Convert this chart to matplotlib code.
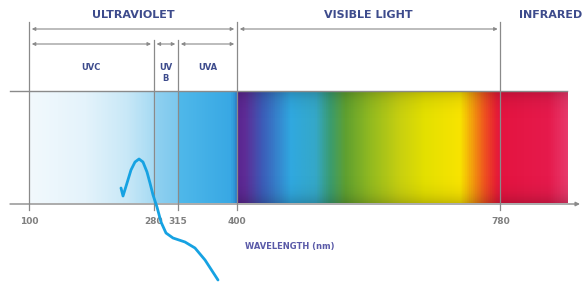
import numpy as np
import matplotlib
matplotlib.use('Agg')
import matplotlib.pyplot as plt
from matplotlib.colors import LinearSegmentedColormap

# ---- data ----
tick_nm = [100, 280, 315, 400, 780]
tick_labels = ['100', '280', '315', '400', '780']

band_names = ['ULTRAVIOLET', 'VISIBLE LIGHT', 'INFRARED']
band_edges = [(100, 400), (400, 780), (780, 900)]

uv_names = ['UVC', 'UV\nB', 'UVA']
uv_edges = [(100, 280), (280, 315), (315, 400)]

spectrum_end = 876

# colour stops along the bar (nm, colour)
stop_nm = [100, 180, 240, 279, 281, 314, 316, 390, 398, 400, 411, 436, 477, 513,
           534, 556, 592, 635, 671, 722, 743, 758, 772, 780, 850, 876]
stop_colors = ['#f2f9fd', '#e4f3fb', '#c8e8f7', '#a6daf3', '#8fd0f0', '#7cc8ee',
               '#4fb8ea', '#38a8e4', '#2a8cd0', '#5a2590', '#5e2c96', '#3c5cb8',
               '#30a8e0', '#35a8c8', '#3a9c70', '#5fa030', '#92ba20', '#c8d010',
               '#e4e000', '#f8e400', '#f29010', '#ef5020', '#e82432', '#e41440',
               '#e61a4c', '#e8386a']

# hand drawn blue stroke
pen_x = [232.7, 235.6, 241.4, 247.1, 252.9, 258.7, 264.4, 270.2, 274.5, 278.9,
         284.6, 290.4, 297.6, 307.7, 325.0, 339.4, 353.9, 372.6]
pen_y = [188, 196, 183, 170, 162, 159, 162, 172, 183, 195, 207, 222, 233, 238,
         242, 248, 260, 280]

# ---- layout ----
px_per_nm = 0.6933
x_left = 100 - 29 / px_per_nm
x_right = 100 + (582 - 29) / px_per_nm
def nm(px):
    return 100 + (px - 29) / px_per_nm

grey = '#8a8a8a'
navy = '#3d4b8c'

fig = plt.figure(figsize=(5.82, 2.82), dpi=100)
ax = fig.add_axes([0, 0, 1, 1])
ax.set_xlim(x_left, x_right)
ax.set_ylim(282, 0)
ax.axis('off')

# spectrum bar
pos = [(v - stop_nm[0]) / (spectrum_end - stop_nm[0]) for v in stop_nm]
cmap = LinearSegmentedColormap.from_list('spec', list(zip(pos, stop_colors)))
grad = np.linspace(0, 1, 1200)[None, :]
ax.imshow(grad, cmap=cmap, aspect='auto', extent=(100, spectrum_end, 203, 91),
          interpolation='bilinear', zorder=1)
# slight darkening toward top and bottom edges
shade = np.abs(np.linspace(-1, 1, 100))[:, None] ** 6 * np.ones((1, 10))
ax.imshow(np.dstack([np.zeros_like(shade)] * 3 + [shade * 0.18]), aspect='auto',
          extent=(400, spectrum_end, 203, 91), zorder=2)

# frame lines
ax.plot([nm(10), spectrum_end], [91, 91], color=grey, lw=1, zorder=3)
ax.annotate('', xy=(nm(580), 204), xytext=(nm(10), 204),
            arrowprops=dict(arrowstyle='-|>', color=grey, lw=1, mutation_scale=6,
                            shrinkA=0, shrinkB=0), zorder=3)

# vertical divider lines
for t in tick_nm:
    top = 40 if t in (280, 315) else 22
    ax.plot([t, t], [top, 210], color=grey, lw=0.9, zorder=3)

# arrows
def dbl(a, b, y):
    ax.annotate('', xy=(b, y), xytext=(a, y),
                arrowprops=dict(arrowstyle='<|-|>', color=grey, lw=0.8,
                                mutation_scale=5, shrinkA=2, shrinkB=2))

for (a, b), name in zip(band_edges, band_names):
    dbl(a, b, 29)
    cx = (a + b) / 2 if name != 'INFRARED' else nm(551)
    ax.text(cx, 15, name, ha='center', va='center', fontsize=8, fontweight='bold',
            color=navy)

for (a, b), name in zip(uv_edges, uv_names):
    dbl(a, b, 44)
    ax.text((a + b) / 2, 68 if '\n' not in name else 73, name, ha='center',
            va='center', fontsize=6, fontweight='bold', color=navy, linespacing=1.3)

# tick labels
for t, lab in zip(tick_nm, tick_labels):
    ax.text(t, 222, lab, ha='center', va='center', fontsize=6.5, fontweight='bold',
            color='#808080')
ax.text(nm(290), 246, 'WAVELENGTH (nm)', ha='center', va='center', fontsize=6,
        fontweight='bold', color='#5a5aa8')

# blue pen stroke
ax.plot(pen_x, pen_y, color='#16a2e2', lw=2, solid_capstyle='round',
        solid_joinstyle='round', zorder=5)

fig.savefig('out.png', dpi=100)
